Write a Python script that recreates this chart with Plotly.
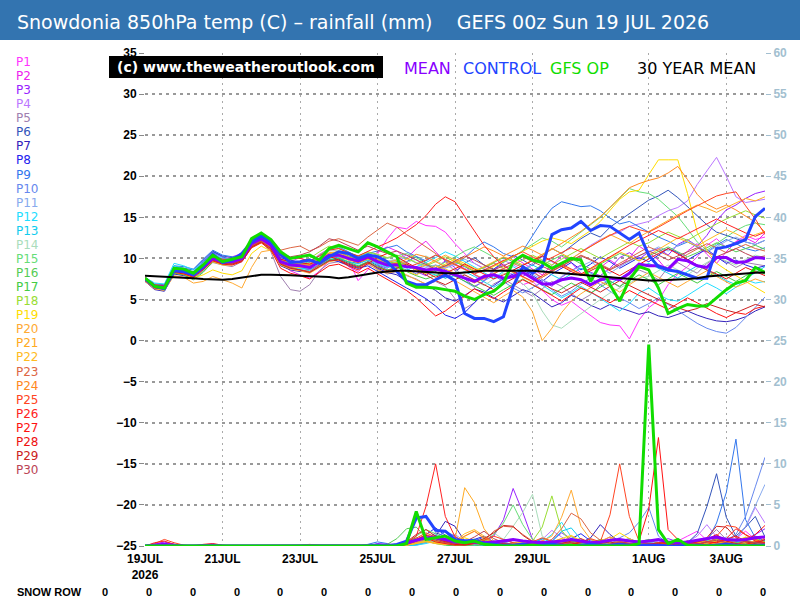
import pandas as pd
import plotly.graph_objects as go

# ---------------- time axis (6-hourly steps from 00z 19 JUL 2026) ----------------
times = pd.date_range("2026-07-19 00:00", periods=65, freq="6h")

tick_dates = ["2026-07-19", "2026-07-21", "2026-07-23", "2026-07-25",
              "2026-07-27", "2026-07-29", "2026-08-01", "2026-08-03"]
tick_labels = ["19JUL<br>2026", "21JUL", "23JUL", "25JUL", "27JUL", "29JUL", "1AUG", "3AUG"]
temp_ticks = [35, 30, 25, 20, 15, 10, 5, 0, -5, -10, -15, -20, -25]
rain_ticks = [0, 5, 10, 15, 20, 25, 30, 35, 40, 45, 50, 55, 60]
member_names = ["P%d" % k for k in range(1, 31)]
snow_row = [0, 0, 0, 0, 0, 0, 0, 0, 0, 0, 0, 0, 0, 0, 0, 0]

# ---------------- 850hPa temperature (C) ----------------
mean_temp = [7.5, 6.6, 6.5, 8.6, 8.4, 8.0, 8.9, 10.0, 9.6, 9.6, 10.0, 11.8, 12.4,
             11.6, 9.6, 9.2, 9.1, 8.9, 9.6, 10.4, 10.4, 10.0, 9.7, 10.2, 9.6, 9.2,
             9.2, 9.0, 8.9, 8.6, 8.7, 8.4, 8.0, 7.6, 7.2, 7.8, 8.0, 7.6, 7.8,
             8.3, 7.6, 6.9, 6.9, 7.4, 7.6, 7.4, 6.8, 7.4, 7.6, 7.4, 8.2, 9.3,
             9.1, 9.1, 8.7, 9.9, 9.7, 9.1, 8.9, 10.1, 10.1, 9.5, 9.6, 10.1, 10.0]
control_temp = [7.5, 6.6, 6.3, 8.5, 8.4, 8.0, 9.0, 10.5, 9.5, 9.8, 10.6, 12.0, 12.8,
                12.0, 10.5, 9.5, 9.6, 9.8, 9.4, 10.2, 10.8, 10.6, 10.0, 10.4, 10.2, 9.6,
                8.4, 7.2, 6.8, 6.8, 7.4, 8.0, 7.3, 3.3, 2.7, 2.7, 2.3, 2.9, 6.6,
                9.0, 8.2, 9.0, 12.9, 13.5, 13.7, 14.5, 13.4, 14.0, 13.9, 13.1, 12.3, 13.1,
                10.4, 9.0, 8.6, 8.4, 8.0, 7.6, 7.6, 11.2, 11.4, 11.8, 12.3, 15.1, 16.1]
gfs_op_temp = [7.6, 6.6, 6.4, 8.8, 8.7, 8.2, 9.2, 10.4, 9.6, 9.9, 10.2, 12.4, 13.1,
               12.3, 10.8, 10.0, 10.2, 10.4, 9.8, 11.2, 11.6, 11.2, 10.8, 11.9, 11.4, 10.8,
               10.2, 7.0, 6.5, 6.5, 6.4, 6.2, 6.0, 5.4, 5.0, 5.6, 6.0, 7.0, 9.6,
               10.4, 9.8, 9.5, 8.8, 9.4, 10.0, 9.8, 7.2, 9.3, 6.8, 4.8, 7.4, 9.0,
               8.6, 6.4, 3.3, 3.9, 4.4, 4.2, 4.2, 5.2, 6.2, 7.0, 7.3, 8.9, 8.3]
clim_temp = [7.9, 7.85, 7.8, 7.75, 7.7, 7.6, 7.5, 7.45, 7.4, 7.5, 7.65, 7.8, 8.0,
             8.0, 8.0, 7.95, 7.9, 7.85, 7.8, 7.75, 7.6, 7.7, 7.9, 8.1, 8.3, 8.4,
             8.5, 8.5, 8.45, 8.4, 8.3, 8.2, 8.2, 8.3, 8.4, 8.5, 8.5, 8.5, 8.5,
             8.5, 8.5, 8.4, 8.3, 8.2, 8.1, 8.0, 7.9, 7.8, 7.7, 7.6, 7.5, 7.4,
             7.3, 7.3, 7.35, 7.4, 7.5, 7.6, 7.8, 7.9, 8.0, 8.1, 8.2, 8.25, 8.3]

p1_temp = [7.6, 6.4, 6.2, 8.8, 8.5, 8.3, 9.4, 10.4, 9.9, 10.2, 10.6, 12.2, 12.9,
           12.0, 10.2, 9.6, 10.1, 9.5, 10.5, 11.2, 10.8, 9.8, 7.3, 8.6, 10.5, 12.4,
           13.8, 13.6, 14.5, 14.0, 13.9, 13.2, 11.8, 10.6, 9.4, 8.8, 9.5, 8.7, 7.9,
           6.8, 7.2, 6.1, 5.0, 4.3, 4.8, 3.9, 3.0, 2.2, 1.9, 1.8, 0.2, 2.5,
           4.0, 4.9, 6.8, 8.1, 9.0, 10.2, 11.6, 12.4, 11.3, 12.1, 12.8, 12.3, 12.6]
p2_temp = [7.4, 6.7, 6.6, 8.4, 8.2, 7.9, 8.7, 9.8, 9.4, 9.3, 9.9, 11.6, 12.2,
           11.3, 9.4, 8.5, 8.0, 7.6, 8.4, 9.7, 10.2, 9.0, 8.4, 9.5, 10.8, 11.4,
           10.9, 10.0, 11.2, 12.1, 10.8, 9.6, 8.5, 9.1, 8.0, 7.3, 8.4, 9.6, 10.2,
           9.4, 8.7, 8.0, 9.1, 10.3, 9.5, 8.2, 7.7, 8.9, 9.8, 9.0, 10.1, 11.5,
           10.7, 9.8, 8.4, 9.6, 10.9, 11.8, 10.5, 9.4, 10.8, 12.0, 12.5, 11.9, 13.1]
p3_temp = [7.5, 6.5, 6.4, 8.5, 8.5, 8.1, 9.0, 10.1, 9.7, 9.5, 9.9, 11.7, 12.3,
           11.5, 9.9, 9.5, 9.4, 9.0, 9.9, 10.6, 10.1, 10.3, 9.9, 10.4, 9.2, 8.8,
           9.6, 9.4, 8.4, 7.9, 8.8, 9.7, 8.9, 7.5, 6.6, 7.2, 8.7, 9.3, 8.4,
           7.8, 8.6, 7.4, 6.6, 7.7, 8.5, 9.2, 8.3, 7.9, 8.8, 10.1, 10.7, 9.9,
           10.8, 11.2, 10.4, 11.7, 12.3, 11.5, 12.8, 14.6, 15.9, 16.5, 17.3, 17.9, 18.2]
p4_temp = [7.7, 6.8, 6.6, 8.7, 8.6, 8.2, 9.1, 10.2, 9.8, 9.8, 10.3, 12.0, 12.6,
           11.8, 9.8, 9.0, 8.6, 8.3, 9.1, 10.0, 10.6, 10.4, 9.9, 10.6, 10.1, 9.6,
           9.9, 10.4, 9.8, 9.1, 8.6, 8.9, 9.3, 8.8, 8.2, 8.5, 9.1, 9.8, 9.2,
           8.6, 9.4, 10.2, 9.6, 8.8, 9.9, 10.8, 11.6, 12.3, 12.8, 13.2, 13.9, 14.2,
           14.5, 15.2, 15.8, 16.2, 17.0, 19.0, 20.6, 22.3, 20.0, 17.5, 16.8, 17.0, 17.2]
p5_temp = [7.3, 6.3, 6.1, 8.2, 8.0, 7.6, 8.4, 9.5, 9.2, 9.0, 9.6, 11.3, 12.0,
           10.8, 7.8, 6.2, 6.0, 6.8, 8.5, 9.4, 9.6, 9.1, 8.8, 9.3, 8.7, 8.1,
           8.4, 7.9, 7.5, 6.8, 7.2, 6.6, 5.1, 3.9, 4.6, 5.8, 6.9, 7.5, 6.8,
           6.1, 5.4, 6.3, 7.2, 6.6, 5.8, 4.9, 5.6, 6.8, 7.3, 6.5, 7.8, 8.6,
           8.1, 7.4, 8.9, 9.5, 8.8, 8.2, 9.4, 10.1, 9.6, 8.9, 9.5, 9.3, 9.1]
p6_temp = [7.6, 6.7, 6.7, 8.9, 8.8, 8.6, 9.8, 10.9, 10.3, 10.1, 10.5, 12.3, 12.9,
           12.2, 10.4, 9.8, 9.5, 9.1, 9.9, 10.5, 10.0, 9.6, 9.4, 9.8, 9.1, 8.6,
           8.8, 9.6, 10.2, 9.5, 8.4, 7.6, 8.3, 9.4, 10.1, 9.2, 8.7, 9.6, 10.4,
           9.8, 9.1, 10.3, 11.2, 10.6, 11.5, 12.4, 13.1, 12.6, 13.8, 14.6, 15.4, 16.3,
           17.1, 17.6, 18.3, 17.4, 16.3, 15.2, 14.1, 13.2, 12.8, 12.4, 12.0, 11.7, 12.2]
p7_temp = [7.2, 6.2, 6.0, 8.1, 7.9, 7.7, 9.2, 10.6, 9.9, 9.5, 9.7, 11.4, 12.1,
           11.2, 9.1, 8.6, 8.4, 8.7, 9.2, 9.8, 9.9, 9.4, 9.0, 9.6, 8.8, 8.3,
           8.0, 7.2, 6.5, 6.8, 6.1, 5.2, 4.8, 5.5, 6.3, 5.9, 5.2, 4.7, 5.4,
           6.2, 5.8, 4.9, 4.1, 4.6, 5.5, 5.0, 4.3, 3.8, 4.4, 4.0, 3.6, 3.2,
           3.5, 3.0, 2.8, 3.2, 3.6, 3.1, 2.7, 2.4, 2.3, 2.5, 2.9, 3.6, 4.1]
p8_temp = [7.5, 6.5, 6.3, 8.7, 8.6, 8.3, 9.6, 10.8, 10.2, 9.8, 10.3, 12.1, 12.7,
           11.9, 10.1, 9.7, 9.5, 9.2, 9.4, 9.9, 9.6, 9.2, 8.8, 9.1, 8.4, 7.8,
           7.1, 6.4, 5.8, 5.1, 4.2, 3.1, 2.7, 3.4, 4.6, 5.8, 6.7, 7.5, 8.1,
           8.6, 7.9, 7.2, 8.1, 8.8, 9.5, 8.6, 9.3, 10.2, 9.6, 8.8, 9.4, 10.1,
           9.6, 10.4, 11.2, 10.7, 9.8, 10.5, 11.1, 10.2, 9.4, 9.8, 9.2, 8.8, 9.1]
p9_temp = [7.7, 6.9, 6.8, 9.1, 9.0, 8.7, 9.9, 11.0, 10.4, 10.2, 10.4, 12.2, 12.8,
           12.0, 10.0, 9.3, 9.2, 9.5, 10.3, 11.1, 11.4, 10.8, 10.2, 10.6, 10.9, 11.3,
           11.6, 10.8, 10.2, 9.7, 10.4, 9.8, 9.2, 10.1, 11.2, 12.0, 11.4, 10.6, 10.2,
           10.9, 12.8, 14.6, 16.1, 16.9, 16.6, 16.3, 16.4, 15.8, 14.9, 14.2, 14.5, 13.8,
           13.2, 12.6, 12.1, 11.5, 12.0, 11.4, 10.8, 11.6, 12.3, 11.8, 11.2, 10.9, 11.3]
p10_temp = [7.4, 6.6, 6.5, 8.8, 8.7, 8.4, 9.7, 10.7, 10.1, 9.9, 10.2, 11.9, 12.5,
            11.7, 9.7, 9.1, 8.9, 8.6, 9.3, 10.1, 10.3, 9.9, 9.5, 10.1, 9.4, 9.0,
            9.3, 8.8, 8.1, 8.5, 9.2, 8.6, 7.9, 7.1, 6.5, 7.3, 7.9, 7.2, 6.4,
            5.8, 6.5, 7.1, 6.2, 5.4, 6.0, 6.9, 7.6, 6.8, 5.9, 5.2, 4.6, 3.9,
            4.5, 5.2, 4.4, 3.6, 2.8, 2.1, 1.5, 1.1, 0.9, 1.6, 2.8, 4.1, 5.3]
p11_temp = [7.5, 6.7, 6.6, 8.6, 8.5, 8.2, 9.3, 10.4, 9.9, 9.8, 10.1, 11.9, 12.5,
            11.6, 9.5, 9.0, 8.9, 9.1, 9.8, 10.5, 10.7, 10.2, 9.8, 10.3, 9.9, 9.5,
            9.8, 10.1, 9.4, 8.9, 9.2, 8.8, 9.3, 9.9, 9.4, 8.7, 8.2, 7.6, 8.3,
            8.9, 8.1, 7.4, 6.9, 7.8, 8.5, 9.1, 9.6, 8.8, 8.2, 9.0, 9.7, 10.3,
            10.8, 11.4, 10.9, 11.6, 12.2, 11.5, 10.8, 11.4, 12.1, 12.6, 12.0, 11.7, 12.2]
p12_temp = [7.7, 7.0, 6.9, 9.4, 9.1, 8.6, 9.5, 10.5, 10.0, 9.9, 10.2, 11.8, 12.3,
            11.4, 9.2, 8.8, 8.7, 8.5, 9.2, 9.9, 10.1, 9.6, 9.3, 9.8, 9.3, 8.9,
            9.1, 8.6, 9.0, 9.5, 10.1, 10.8, 10.3, 9.6, 8.9, 8.2, 7.6, 8.4, 9.0,
            8.3, 7.5, 6.8, 5.9, 5.2, 5.8, 6.6, 5.9, 5.1, 4.4, 3.6, 4.5, 5.8,
            6.4, 5.6, 5.0, 4.8, 5.5, 6.3, 7.0, 6.4, 5.7, 6.5, 7.4, 7.0, 7.2]
p13_temp = [7.6, 6.8, 6.7, 9.1, 8.8, 8.3, 9.2, 10.2, 9.7, 9.7, 10.1, 11.7, 12.2,
            11.3, 9.3, 8.9, 8.8, 8.8, 9.6, 10.3, 10.5, 10.1, 9.6, 9.9, 9.5, 9.3,
            9.5, 9.1, 8.7, 8.3, 8.0, 7.6, 7.9, 8.4, 7.8, 7.1, 6.5, 7.2, 7.9,
            8.5, 9.2, 8.6, 8.0, 7.4, 8.1, 8.8, 8.2, 7.5, 6.9, 7.6, 8.3, 8.9,
            9.4, 8.8, 8.2, 7.6, 8.4, 9.1, 8.6, 7.9, 7.3, 6.8, 7.5, 8.2, 9.0]
p14_temp = [7.4, 6.6, 6.5, 8.5, 8.3, 7.9, 8.8, 9.9, 9.5, 9.5, 9.9, 11.5, 12.1,
            11.2, 9.5, 9.1, 9.0, 9.3, 10.1, 10.9, 11.0, 10.4, 9.9, 10.5, 10.2, 9.7,
            9.9, 9.5, 9.9, 10.3, 9.7, 9.2, 8.6, 8.0, 7.4, 6.7, 7.5, 8.2, 7.6,
            6.9, 5.8, 3.6, 1.9, 1.5, 2.4, 3.3, 4.2, 5.0, 5.8, 6.4, 7.0, 7.6,
            7.8, 8.5, 9.2, 8.6, 8.0, 8.8, 9.5, 10.2, 9.7, 9.2, 9.9, 10.4, 10.1]
p15_temp = [7.5, 6.6, 6.4, 8.3, 8.1, 7.6, 8.5, 9.8, 9.4, 9.4, 9.9, 11.6, 12.3,
            11.5, 9.6, 9.3, 9.3, 9.6, 10.4, 11.2, 11.3, 10.6, 10.1, 10.7, 10.4, 10.0,
            10.3, 10.6, 10.1, 9.4, 8.9, 9.5, 10.2, 10.9, 11.4, 10.8, 10.1, 9.5, 10.2,
            11.0, 11.8, 12.5, 12.1, 11.4, 12.3, 13.2, 14.1, 15.0, 16.2, 17.4, 18.5, 18.1,
            17.9, 17.2, 16.1, 15.1, 13.6, 12.0, 11.0, 11.8, 12.6, 13.4, 14.0, 14.3, 14.1]
p16_temp = [7.6, 6.7, 6.6, 8.7, 8.5, 8.0, 8.8, 9.9, 9.6, 9.7, 10.2, 11.9, 12.5,
            11.7, 9.8, 9.4, 9.2, 9.0, 9.7, 10.6, 10.8, 10.3, 9.9, 10.4, 9.8, 9.4,
            9.6, 9.2, 8.8, 8.2, 8.5, 9.1, 9.6, 9.0, 8.4, 8.9, 9.5, 10.1, 9.6,
            9.0, 8.5, 9.2, 9.8, 10.4, 10.0, 9.4, 8.7, 9.3, 10.0, 10.6, 10.2, 9.7,
            10.3, 10.9, 11.4, 10.8, 10.2, 10.7, 11.3, 11.9, 11.4, 10.8, 11.2, 11.6, 11.1]
p17_temp = [7.3, 6.4, 6.2, 8.2, 8.0, 7.4, 8.3, 9.6, 9.3, 9.4, 9.8, 11.4, 12.0,
            11.1, 9.2, 8.8, 8.6, 8.3, 9.0, 9.8, 10.0, 9.5, 9.1, 9.6, 9.0, 8.6,
            8.9, 8.4, 7.9, 7.5, 7.9, 8.4, 7.8, 7.2, 6.6, 6.1, 5.5, 6.2, 6.9,
            7.5, 6.8, 6.2, 5.6, 6.3, 7.0, 6.4, 5.8, 6.5, 7.2, 6.6, 7.3, 8.0,
            7.4, 6.8, 7.5, 8.2, 7.6, 7.0, 7.7, 8.4, 7.8, 7.2, 7.9, 8.5, 8.1]
p18_temp = [7.5, 6.6, 6.5, 8.6, 8.4, 8.1, 9.0, 10.1, 9.7, 9.7, 10.3, 12.1, 12.6,
            11.7, 9.8, 9.4, 9.6, 10.0, 10.8, 11.5, 11.2, 10.7, 10.3, 10.8, 10.5, 10.1,
            10.4, 10.0, 9.5, 9.1, 9.6, 10.2, 9.6, 9.1, 8.5, 8.9, 9.4, 8.8, 9.3,
            9.8, 10.4, 9.8, 9.2, 9.9, 10.6, 11.2, 10.6, 10.0, 10.7, 11.4, 12.0, 11.5,
            11.9, 12.6, 13.2, 12.7, 12.2, 12.9, 13.6, 14.2, 14.8, 15.3, 15.8, 15.3, 14.9]
p19_temp = [7.4, 6.5, 6.4, 8.3, 8.1, 7.6, 8.0, 8.6, 8.2, 8.0, 8.5, 10.6, 11.5,
            10.9, 9.4, 9.0, 8.9, 9.1, 9.8, 10.6, 10.6, 10.1, 9.7, 10.2, 9.7, 9.3,
            9.5, 9.1, 8.6, 8.2, 8.7, 9.3, 9.9, 9.4, 8.8, 8.4, 9.0, 9.7, 10.3,
            10.8, 11.4, 12.1, 12.5, 12.2, 11.8, 12.6, 13.4, 14.5, 15.9, 17.2, 18.1, 18.3,
            20.2, 22.0, 22.0, 22.0, 17.9, 13.2, 11.0, 9.4, 8.6, 7.9, 7.2, 6.6, 5.8]
p20_temp = [7.2, 6.3, 6.1, 7.9, 7.7, 7.0, 7.2, 7.8, 7.4, 7.0, 6.4, 8.9, 10.8,
            11.0, 9.2, 8.7, 8.5, 8.2, 8.9, 9.6, 9.8, 9.3, 8.9, 9.4, 8.6, 8.2,
            8.5, 8.0, 7.4, 6.9, 7.4, 7.9, 7.3, 6.6, 5.9, 5.2, 4.6, 5.4, 6.1,
            5.3, 3.5, 0.0, 1.5, 3.4, 4.8, 5.7, 6.5, 7.2, 6.6, 5.9, 6.8, 7.6,
            8.3, 7.7, 7.1, 6.5, 7.2, 7.9, 8.5, 7.8, 7.1, 6.5, 7.0, 7.5, 7.1]
p21_temp = [7.6, 6.7, 6.6, 8.7, 8.5, 8.1, 8.8, 9.8, 9.4, 9.5, 9.9, 11.6, 12.2,
            11.4, 9.5, 9.2, 9.2, 9.4, 10.0, 10.7, 10.8, 10.2, 9.8, 10.3, 9.9, 9.5,
            9.8, 9.3, 8.8, 9.2, 9.8, 10.4, 9.8, 9.1, 8.5, 9.0, 9.6, 10.2, 9.8,
            9.2, 9.8, 10.5, 11.2, 10.6, 10.0, 10.7, 11.5, 12.2, 12.9, 12.3, 11.8, 12.6,
            13.3, 14.0, 14.6, 15.3, 15.9, 16.5, 16.1, 15.6, 16.2, 16.8, 17.3, 17.0, 17.5]
p22_temp = [7.5, 6.6, 6.5, 8.6, 8.4, 8.0, 8.7, 9.6, 9.2, 9.2, 9.7, 11.3, 11.9,
            11.2, 9.4, 9.0, 9.0, 9.3, 9.9, 10.4, 10.2, 9.8, 9.5, 9.9, 9.6, 9.2,
            9.0, 8.5, 8.0, 8.6, 9.1, 8.7, 8.2, 7.6, 7.0, 7.6, 8.2, 8.8, 8.3,
            7.7, 7.1, 7.7, 8.4, 9.1, 8.6, 8.0, 8.7, 9.4, 10.1, 10.8, 10.3, 9.7,
            10.4, 11.1, 11.8, 12.5, 12.0, 11.5, 12.2, 12.9, 13.5, 13.0, 12.4, 12.9, 13.3]
p23_temp = [7.6, 6.6, 6.5, 8.5, 8.4, 8.1, 9.0, 10.2, 9.8, 9.9, 10.5, 12.3, 12.9,
            12.4, 11.0, 11.3, 11.5, 10.9, 11.4, 12.1, 12.4, 12.0, 11.6, 12.6, 13.5, 14.3,
            13.8, 12.9, 12.2, 11.4, 10.6, 9.8, 9.2, 8.6, 8.0, 7.5, 8.1, 8.8, 9.4,
            8.9, 8.3, 7.7, 8.4, 9.1, 9.8, 10.4, 9.9, 9.3, 8.7, 9.4, 10.1, 10.8,
            11.4, 10.9, 10.3, 9.8, 10.5, 11.2, 11.8, 11.3, 10.7, 11.2, 11.7, 11.2, 10.9]
p24_temp = [7.4, 6.5, 6.4, 8.4, 8.3, 7.9, 8.8, 9.9, 9.5, 9.6, 10.0, 11.8, 12.4,
            11.6, 9.9, 9.5, 9.3, 9.1, 9.7, 10.4, 10.5, 10.0, 9.6, 10.1, 9.5, 9.1,
            9.4, 9.9, 10.5, 10.2, 9.6, 9.0, 9.5, 10.1, 10.8, 11.4, 10.9, 10.3, 10.9,
            11.5, 11.0, 10.4, 11.1, 11.8, 12.5, 13.3, 14.2, 15.1, 16.2, 17.4, 18.6, 19.1,
            19.5, 19.8, 20.4, 21.2, 19.6, 17.8, 16.6, 16.0, 16.5, 15.9, 15.2, 14.4, 13.2]
p25_temp = [7.5, 6.6, 6.4, 8.5, 8.3, 7.9, 8.8, 9.9, 9.5, 9.4, 9.8, 11.5, 12.1,
            11.3, 9.4, 8.9, 8.6, 8.4, 9.2, 10.0, 10.4, 9.9, 9.5, 10.0, 9.6, 9.2,
            9.4, 8.9, 9.3, 9.8, 10.4, 9.9, 9.3, 8.7, 8.1, 8.6, 9.2, 9.8, 10.3,
            10.8, 10.2, 9.6, 10.1, 10.7, 11.3, 10.8, 11.5, 12.1, 12.8, 13.4, 13.9, 13.5,
            13.2, 13.8, 14.5, 15.2, 15.8, 16.4, 17.0, 17.6, 17.9, 18.1, 16.4, 14.8, 12.9]
p26_temp = [7.7, 6.8, 6.7, 8.8, 8.6, 8.3, 9.2, 10.3, 9.9, 9.9, 10.3, 12.0, 12.6,
            11.8, 10.3, 10.1, 10.0, 9.7, 10.3, 11.0, 11.2, 10.7, 10.3, 10.9, 11.4, 11.9,
            12.5, 13.3, 14.1, 15.2, 16.6, 17.5, 16.9, 15.1, 13.3, 11.6, 10.2, 9.1, 8.4,
            7.8, 7.2, 7.9, 8.6, 9.3, 8.7, 8.1, 8.8, 9.5, 10.2, 10.9, 11.6, 12.2,
            12.8, 13.4, 12.9, 12.4, 13.0, 13.6, 14.2, 14.8, 14.2, 13.6, 13.1, 12.7, 13.2]
p27_temp = [7.3, 6.4, 6.3, 8.3, 8.1, 7.7, 8.6, 9.7, 9.3, 9.2, 9.6, 11.3, 11.9,
            11.0, 8.8, 8.2, 7.9, 7.5, 8.3, 9.1, 9.3, 8.7, 8.2, 8.8, 8.1, 7.4,
            6.8, 6.1, 5.2, 4.1, 3.0, 3.6, 4.5, 5.4, 6.3, 5.7, 5.1, 5.9, 6.7,
            7.4, 6.8, 6.2, 5.5, 4.8, 5.6, 6.4, 5.9, 5.2, 4.6, 5.3, 6.1, 5.5,
            4.9, 4.3, 3.8, 4.5, 5.2, 4.6, 3.9, 3.3, 2.8, 3.4, 3.2, 3.9, 4.2]
p28_temp = [7.6, 6.7, 6.6, 8.6, 8.4, 8.0, 8.9, 10.0, 9.6, 9.6, 10.0, 11.8, 12.4,
            11.7, 9.9, 9.6, 9.5, 9.3, 9.8, 10.3, 9.8, 9.1, 8.6, 9.4, 10.1, 10.6,
            10.2, 9.5, 8.9, 8.3, 7.7, 8.2, 8.8, 9.3, 8.7, 8.1, 7.5, 8.0, 8.6,
            9.2, 9.8, 10.3, 9.7, 9.0, 8.4, 7.9, 8.5, 9.1, 8.5, 7.9, 8.6, 9.3,
            9.9, 10.6, 11.2, 10.5, 9.8, 9.2, 8.6, 8.1, 7.5, 8.2, 8.9, 8.4, 7.9]
p29_temp = [7.4, 6.5, 6.4, 8.4, 8.2, 7.8, 8.7, 9.8, 9.4, 9.3, 9.7, 11.4, 12.0,
            11.2, 9.3, 8.8, 8.6, 8.3, 9.0, 9.7, 9.8, 9.3, 8.9, 9.5, 8.9, 8.5,
            8.8, 9.3, 8.7, 8.0, 7.3, 6.8, 7.4, 8.0, 7.4, 6.8, 6.2, 6.9, 7.6,
            8.2, 7.6, 6.9, 6.3, 5.8, 6.4, 7.1, 6.5, 5.9, 6.6, 7.3, 6.7, 6.1,
            5.5, 5.0, 4.5, 4.0, 3.6, 3.9, 4.5, 4.1, 3.7, 3.4, 3.9, 4.4, 4.1]
p30_temp = [7.5, 6.6, 6.5, 8.5, 8.3, 7.9, 8.8, 9.9, 9.5, 9.5, 9.9, 11.6, 12.2,
            11.8, 10.6, 10.2, 10.4, 10.8, 11.5, 12.4, 12.1, 11.5, 11.0, 11.5, 11.0, 10.6,
            10.9, 10.4, 9.8, 9.2, 8.7, 9.1, 9.7, 10.3, 9.8, 9.2, 8.6, 9.1, 9.7,
            10.2, 9.6, 9.0, 8.5, 9.1, 9.7, 10.3, 9.8, 9.2, 8.6, 9.2, 9.8, 10.4,
            10.9, 10.4, 9.8, 10.3, 10.8, 11.3, 10.8, 10.2, 10.7, 11.2, 10.6, 10.1, 10.3]

# ---------------- rainfall (mm), right axis ----------------
mean_rain = [0, 0.1, 0.2, 0.1, 0, 0, 0.05, 0.1, 0, 0, 0, 0, 0,
             0, 0, 0, 0, 0.05, 0, 0, 0, 0, 0, 0.05, 0.1, 0.1,
             0.1, 0.4, 0.7, 1.0, 1.0, 0.8, 0.5, 0.6, 0.5, 0.4, 0.5, 0.6, 0.8,
             0.6, 0.5, 0.4, 0.5, 0.6, 0.8, 0.6, 0.4, 0.5, 0.7, 0.8, 0.6, 0.5,
             0.6, 0.8, 0.5, 0.4, 0.5, 0.7, 0.9, 1.1, 0.8, 0.7, 0.8, 1.0, 1.1]
control_rain = [0, 0, 0, 0, 0, 0, 0, 0, 0, 0, 0, 0, 0,
                0, 0, 0, 0, 0, 0, 0, 0, 0, 0, 0, 0.1, 0,
                0.2, 0.6, 3.4, 3.6, 1.9, 1.8, 0.8, 0.6, 0.7, 0.3, 0.2, 0.1, 0.1,
                0.2, 0.1, 0.1, 0.2, 0.1, 0, 0.1, 0.2, 0.1, 0.1, 0.2, 0.1, 0.1,
                0.1, 0.1, 0, 0, 0.1, 0.1, 0, 0.1, 0.2, 0.1, 0, 0.1, 0.1]
gfs_op_rain = [0, 0, 0, 0, 0, 0, 0, 0, 0, 0, 0, 0, 0,
               0, 0, 0, 0, 0, 0, 0, 0, 0, 0, 0, 0, 0,
               0, 0.3, 4.2, 0.8, 1.0, 1.2, 0.6, 0.4, 0.6, 0.2, 0.1, 0, 0,
               0, 0.1, 0, 0, 0, 0.1, 0, 0, 0, 0, 0, 0, 0.3,
               24.5, 2.0, 0.3, 0.8, 0.1, 0, 0, 0, 0, 0, 0, 0, 0]

p1_rain = [0, 0, 0.3, 0.1, 0, 0, 0, 0, 0, 0, 0, 0, 0,
           0, 0, 0, 0, 0, 0, 0, 0, 0, 0, 0, 0, 0,
           0, 0.2, 0.5, 0.8, 0.4, 0.2, 0, 0.3, 0.1, 0, 0, 0.2, 0.4,
           0.3, 0.1, 0, 0.2, 0.5, 0.3, 0.1, 0, 0.4, 0.8, 0.3, 0.1, 0,
           0, 0, 0.2, 0.6, 1.2, 1.8, 0.7, 0.3, 0.5, 0.9, 1.8, 0.8, 0.4]
p2_rain = [0, 0.2, 0.5, 0.2, 0, 0, 0, 0, 0, 0, 0, 0, 0,
           0, 0, 0, 0, 0, 0, 0, 0, 0, 0, 0, 0, 0,
           0, 0, 0.3, 1.1, 0.6, 0.2, 0.1, 0, 0, 0.2, 0.3, 0.1, 0,
           0, 0.2, 0.6, 0.3, 0, 0, 0.1, 0.4, 0.2, 0, 0, 0.3, 0.1,
           0, 0.2, 0.5, 0.2, 0, 0.1, 0.4, 1.0, 0.6, 0.3, 0.2, 0.5, 0.8]
p3_rain = [0, 0.2, 0.5, 0.2, 0, 0, 0, 0, 0, 0, 0, 0, 0,
           0, 0, 0, 0, 0, 0, 0, 0, 0, 0, 0, 0.3, 0.2,
           0, 0.1, 0.4, 0.9, 1.3, 0.8, 0.3, 0.1, 0.2, 0.5, 1.2, 3.2, 7.0,
           4.1, 0.8, 0.3, 0.6, 1.6, 0.9, 0.4, 0.2, 0.5, 1.1, 0.6, 0.3, 0.2,
           0.1, 0.4, 0.9, 0.5, 0.2, 0.3, 0.7, 1.3, 0.6, 0.4, 0.8, 1.4, 2.1]
p4_rain = [0, 0, 0, 0, 0, 0, 0, 0, 0, 0, 0, 0, 0,
           0, 0, 0, 0, 0, 0, 0, 0, 0, 0, 0, 0, 0,
           0, 0, 0.2, 0.6, 0.3, 0.9, 1.4, 0.6, 0.2, 0, 0.3, 0.5, 0.2,
           0.1, 0.3, 0.8, 1.9, 1.1, 0.4, 0.2, 0.6, 0.3, 0.1, 0.4, 0.2, 0.1,
           0.3, 0.6, 0.2, 0.1, 0.5, 1.2, 2.6, 1.1, 0.4, 0.9, 2.3, 4.7, 2.8]
p5_rain = [0, 0, 0, 0, 0, 0, 0, 0, 0, 0, 0, 0, 0,
           0, 0, 0, 0, 0, 0, 0, 0, 0, 0, 0, 0, 0,
           0, 0.1, 0.5, 1.0, 0.7, 0.3, 0.2, 0, 0.1, 0.3, 0.2, 0, 0,
           0.2, 0.5, 0.3, 0.1, 0, 0.2, 0.6, 0.3, 0.1, 0, 0.2, 0.1, 0,
           0, 0.2, 0.4, 0.1, 0, 0.3, 0.9, 2.0, 0.8, 0.3, 0.6, 0.4, 0.2]
p6_rain = [0, 0, 0, 0, 0, 0, 0, 0, 0, 0, 0, 0, 0,
           0, 0, 0, 0, 0, 0, 0, 0, 0, 0, 0, 0, 0,
           0, 0, 0.3, 0.8, 1.6, 1.2, 0.5, 0.3, 0.6, 1.1, 0.4, 0.2, 0.1,
           0, 0.3, 0.9, 0.5, 0.2, 0.1, 0.4, 0.8, 0.3, 0.2, 0.6, 0.9, 0.4,
           0.2, 0.1, 0.3, 0.6, 0.4, 1.5, 4.8, 8.8, 3.5, 1.2, 2.3, 3.6, 1.1]
p7_rain = [0, 0, 0, 0, 0, 0, 0, 0, 0, 0, 0, 0, 0,
           0, 0, 0, 0, 0, 0, 0, 0, 0, 0, 0, 0, 0,
           0, 0, 0.2, 0.5, 1.2, 3.0, 2.4, 0.6, 0.2, 0.1, 0.3, 0.8, 0.4,
           0.2, 0.1, 0.3, 0.6, 0.2, 0, 0.4, 1.0, 2.6, 1.4, 0.5, 0.2, 0.1,
           0, 0.2, 0.5, 0.3, 0.1, 0.2, 0.6, 0.4, 0.2, 0.5, 1.0, 0.7, 0.3]
p8_rain = [0, 0, 0, 0, 0, 0, 0, 0, 0, 0, 0, 0, 0,
           0, 0, 0, 0, 0, 0, 0, 0, 0, 0, 0, 0.2, 0.1,
           0, 0.1, 0.6, 1.4, 2.2, 1.3, 0.7, 0.4, 0.8, 1.2, 0.5, 0.3, 0.2,
           0.1, 0.4, 0.2, 0.1, 0.3, 0.9, 1.5, 0.6, 0.2, 0.1, 0.4, 0.8, 0.3,
           0.2, 0.4, 0.1, 0.3, 0.6, 0.2, 0.4, 0.9, 0.5, 0.3, 0.7, 1.2, 0.6]
p9_rain = [0, 0, 0, 0, 0, 0, 0, 0, 0, 0, 0, 0, 0,
           0, 0, 0, 0, 0, 0, 0, 0, 0, 0, 0.2, 0.5, 0.3,
           0, 0, 0.2, 0.5, 1.0, 1.8, 1.2, 0.4, 0.2, 0.1, 0.3, 0.2, 0.1,
           0, 0.2, 0.5, 0.3, 0.1, 0.2, 0.4, 0.3, 0.1, 0, 0.3, 0.6, 0.2,
           0.1, 0.2, 0.4, 0.2, 0.1, 0.3, 0.5, 2.8, 6.5, 13.0, 3.2, 1.0, 0.5]
p10_rain = [0, 0, 0, 0, 0, 0, 0, 0, 0, 0, 0, 0, 0,
            0, 0, 0, 0, 0, 0, 0, 0, 0, 0, 0, 0, 0,
            0, 0, 0.1, 0.4, 0.8, 0.5, 0.3, 0.1, 0.4, 0.7, 0.3, 0.1, 0,
            0.2, 0.1, 0.3, 0.6, 0.4, 0.2, 0.1, 0.3, 0.8, 0.6, 1.0, 1.6, 2.9,
            4.7, 1.2, 0.3, 0.5, 0.3, 0.4, 0.8, 0.5, 0.7, 1.4, 3.6, 7.2, 10.8]
p11_rain = [0, 0, 0, 0, 0, 0, 0, 0, 0, 0, 0, 0, 0,
            0, 0, 0, 0, 0, 0, 0, 0, 0, 0, 0, 0, 0,
            0, 0.1, 0.3, 0.7, 1.4, 0.9, 0.4, 0.2, 0.1, 0.3, 0.6, 0.4, 0.2,
            0.1, 0.3, 0.2, 0.8, 1.7, 0.6, 0.2, 0.1, 0.3, 0.5, 0.2, 0.1, 0.3,
            0.5, 0.2, 0.1, 0.3, 0.6, 0.4, 0.2, 0.5, 1.1, 0.8, 2.4, 4.9, 7.5]
p12_rain = [0, 0, 0, 0, 0, 0, 0, 0, 0, 0, 0, 0, 0,
            0, 0, 0, 0, 0, 0, 0, 0, 0, 0, 0, 0, 0,
            0, 0, 0.1, 0.3, 0.6, 0.9, 0.5, 0.3, 0.1, 0, 0.2, 0.4, 0.2,
            0.1, 0.2, 0.5, 1.4, 2.9, 1.1, 0.4, 0.2, 0.6, 0.3, 0.1, 0.2, 0.4,
            0.2, 0.1, 0.3, 0.2, 0.1, 0.4, 0.7, 0.3, 0.2, 0.6, 0.4, 0.2, 0.1]
p13_rain = [0, 0, 0, 0, 0, 0, 0, 0, 0, 0, 0, 0, 0,
            0, 0, 0, 0, 0, 0, 0, 0, 0, 0, 0, 0, 0,
            0, 0, 0.2, 0.5, 0.9, 0.6, 0.3, 0.1, 0.2, 0.4, 0.2, 0.1, 0,
            0.2, 0.4, 0.9, 0.5, 1.8, 2.2, 0.8, 0.3, 0.1, 0.2, 0.4, 0.2, 0.1,
            0, 0.2, 0.4, 0.3, 0.1, 0.2, 0.5, 0.3, 0.6, 0.4, 0.2, 0.5, 0.3]
p14_rain = [0, 0, 0, 0, 0, 0, 0, 0, 0, 0, 0, 0, 0,
            0, 0, 0, 0, 0, 0, 0, 0, 0, 0, 0, 0, 0,
            0, 0.2, 0.6, 1.1, 0.7, 0.3, 0.1, 0.2, 0.4, 0.9, 1.6, 0.8, 2.4,
            4.1, 6.3, 1.2, 0.4, 0.2, 0.1, 0.3, 0.5, 0.2, 0.1, 0.4, 0.8, 0.3,
            0.2, 0.1, 0.3, 0.5, 0.2, 0.1, 0.4, 0.6, 0.3, 0.2, 0.5, 0.3, 0.2]
p15_rain = [0, 0, 0, 0, 0, 0, 0, 0, 0, 0, 0, 0, 0,
            0, 0, 0, 0, 0, 0, 0, 0, 0, 0, 0, 0, 0,
            0, 0.4, 1.2, 2.0, 1.5, 0.8, 0.3, 0.1, 0.2, 0.6, 1.4, 2.8, 5.0,
            2.6, 0.8, 0.3, 0.2, 0.5, 0.3, 0.1, 0.2, 0.4, 0.8, 0.3, 0.1, 0.2,
            0.3, 0.1, 0.2, 0.4, 0.2, 0.1, 0.3, 0.6, 0.4, 0.2, 0.3, 0.5, 0.3]
p16_rain = [0, 0, 0, 0, 0, 0, 0, 0, 0, 0, 0, 0, 0,
            0, 0, 0, 0, 0, 0, 0, 0, 0, 0, 0, 0, 0.2,
            0.9, 2.1, 2.3, 1.0, 0.5, 0.3, 0.2, 0.1, 0, 0.2, 0.4, 0.3, 0.1,
            0.2, 0.4, 0.2, 0.1, 0.3, 0.6, 0.3, 0.1, 0.2, 0.5, 0.3, 0.1, 0.2,
            0.4, 0.2, 0.1, 0.3, 0.5, 0.2, 0.1, 0.3, 0.6, 0.4, 0.2, 0.3, 0.4]
p17_rain = [0, 0, 0, 0, 0, 0, 0, 0, 0, 0, 0, 0, 0,
            0, 0, 0, 0, 0, 0, 0, 0, 0, 0, 0, 0, 0,
            0.1, 0.5, 1.0, 0.6, 0.3, 0.1, 0, 0.2, 0.4, 0.3, 0.1, 0, 0.2,
            0.4, 0.2, 0.1, 0.3, 0.5, 0.2, 0.1, 0.4, 0.7, 0.3, 0.1, 0.2, 0.5,
            0.8, 0.3, 0.1, 0.2, 0.4, 0.3, 0.1, 0.2, 0.5, 0.3, 0.2, 0.4, 0.6]
p18_rain = [0, 0, 0, 0, 0, 0, 0, 0, 0, 0, 0, 0, 0,
            0, 0, 0, 0, 0, 0, 0, 0, 0, 0, 0, 0, 0,
            0, 0.2, 0.5, 0.9, 0.6, 0.3, 0.1, 0.2, 0.5, 0.8, 0.4, 0.2, 0.1,
            0.3, 0.6, 2.3, 6.1, 1.9, 0.5, 0.2, 0.4, 0.8, 0.5, 0.2, 0.1, 0.3,
            0.2, 0.1, 0.3, 0.6, 0.4, 0.2, 0.5, 0.8, 0.4, 0.3, 0.6, 0.9, 0.5]
p19_rain = [0, 0, 0, 0, 0, 0, 0, 0, 0, 0, 0, 0, 0,
            0, 0, 0, 0, 0, 0, 0, 0, 0, 0, 0, 0, 0,
            0, 0.1, 0.3, 0.6, 0.4, 0.2, 0.5, 1.0, 0.6, 0.3, 0.1, 0.2, 0.4,
            0.6, 0.3, 0.2, 0.5, 0.9, 1.3, 0.6, 0.2, 0.1, 0.8, 1.6, 0.9, 0.4,
            0.2, 0.1, 0.3, 0.2, 0.1, 0.4, 0.8, 0.5, 0.2, 0.6, 1.1, 0.7, 0.4]
p20_rain = [0, 0, 0, 0, 0, 0, 0, 0, 0, 0, 0, 0, 0,
            0, 0, 0, 0, 0, 0, 0, 0, 0, 0, 0, 0, 0,
            0, 0.1, 0.4, 0.7, 0.3, 0.2, 0.6, 1.2, 1.8, 0.9, 0.4, 0.2, 0.3,
            0.5, 0.2, 0.6, 1.2, 3.5, 6.8, 2.4, 0.8, 0.3, 0.1, 0.2, 0.4, 0.2,
            0.1, 0.3, 0.5, 0.2, 0.1, 0.2, 0.4, 0.3, 0.6, 0.2, 0.1, 0.3, 0.2]
p21_rain = [0, 0, 0, 0, 0, 0, 0, 0, 0, 0, 0, 0, 0,
            0, 0, 0, 0, 0, 0, 0, 0, 0, 0, 0, 0, 0,
            0, 0.2, 0.5, 0.9, 0.6, 0.4, 0.8, 7.1, 5.3, 2.1, 0.6, 0.3, 0.2,
            0.1, 0.3, 0.2, 0.5, 0.9, 0.4, 0.2, 0.1, 0.6, 1.1, 0.5, 0.2, 0.1,
            0.3, 0.1, 0.2, 0.5, 0.3, 0.2, 0.4, 0.7, 0.3, 0.2, 0.4, 0.6, 0.3]
p22_rain = [0, 0, 0, 0, 0, 0, 0, 0, 0, 0, 0, 0, 0,
            0, 0, 0, 0, 0, 0, 0, 0, 0, 0, 0, 0, 0,
            0, 0.1, 0.3, 0.5, 0.3, 0.2, 0.6, 1.5, 2.0, 1.2, 0.4, 0.2, 0.1,
            0.3, 0.7, 0.4, 0.2, 0.5, 1.2, 0.6, 0.3, 0.1, 0.2, 0.5, 0.3, 0.1,
            0.2, 0.4, 0.2, 0.1, 0.3, 0.5, 0.2, 0.4, 0.7, 0.3, 0.1, 0.2, 0.3]
p23_rain = [0, 0, 0, 0, 0, 0, 0, 0, 0, 0, 0, 0, 0,
            0, 0, 0, 0, 0, 0, 0, 0, 0, 0, 0, 0, 0,
            0, 0.3, 0.8, 1.4, 1.0, 0.5, 0.2, 0.1, 0.3, 0.6, 1.8, 2.4, 2.3,
            1.4, 0.6, 0.3, 0.8, 2.1, 4.0, 3.3, 1.6, 0.7, 0.3, 0.1, 0.2, 0.4,
            0.2, 0.1, 0.3, 0.6, 0.4, 0.2, 0.5, 0.9, 0.4, 0.2, 0.6, 0.3, 0.2]
p24_rain = [0, 0, 0, 0, 0, 0, 0, 0, 0, 0, 0, 0, 0,
            0, 0, 0, 0.1, 0.2, 0.1, 0, 0, 0, 0, 0, 0, 0,
            0, 0.2, 0.6, 1.1, 0.7, 0.4, 0.3, 1.2, 1.8, 1.0, 0.5, 0.2, 0.1,
            0.3, 0.5, 0.2, 0.1, 0.4, 0.8, 0.5, 0.2, 0.1, 0.3, 0.6, 0.3, 0.2,
            0.1, 0.3, 0.5, 0.2, 0.1, 0.4, 0.6, 0.3, 0.5, 0.8, 0.4, 0.2, 1.0]
p25_rain = [0, 0.3, 0.8, 0.4, 0.1, 0, 0, 0, 0, 0, 0, 0, 0,
            0, 0, 0, 0, 0, 0, 0, 0, 0, 0, 0, 0, 0,
            0, 0.3, 0.9, 1.6, 1.1, 0.6, 0.3, 0.2, 0.4, 0.7, 1.2, 0.8, 0.4,
            0.2, 0.5, 1.0, 0.6, 0.3, 0.2, 0.4, 0.9, 0.5, 3.8, 10.0, 3.6, 0.6,
            0.3, 0.1, 0.2, 0.4, 0.3, 0.5, 0.8, 1.2, 2.5, 2.3, 1.4, 0.8, 0.4]
p26_rain = [0, 0.4, 0.6, 0.2, 0, 0, 0, 0, 0, 0, 0, 0, 0,
            0, 0, 0, 0, 0, 0, 0, 0, 0, 0, 0, 0, 0,
            0, 0.4, 1.2, 4.8, 10.0, 3.6, 1.1, 0.5, 0.3, 0.2, 0.4, 0.3, 0.1,
            0.2, 0.4, 0.6, 0.3, 0.1, 0.2, 0.5, 0.3, 0.1, 0.2, 0.4, 0.2, 0.1,
            0.3, 0.2, 0.1, 0.4, 0.6, 0.3, 0.2, 0.5, 0.9, 2.1, 1.3, 0.6, 0.4]
p27_rain = [0, 0, 0, 0, 0, 0, 0.2, 0.3, 0.1, 0, 0, 0, 0,
            0, 0, 0, 0, 0, 0, 0, 0, 0, 0, 0, 0, 0,
            0, 0.2, 0.6, 1.0, 0.5, 0.3, 0.1, 0.2, 0.4, 0.2, 0.1, 0.3, 0.2,
            0.1, 0.2, 0.4, 0.3, 0.1, 0.2, 0.5, 0.3, 0.2, 0.1, 0.3, 0.6, 0.6,
            4.5, 13.2, 2.0, 0.8, 0.3, 0.2, 0.5, 0.4, 0.8, 1.2, 0.6, 1.4, 2.5]
p28_rain = [0, 0, 0, 0, 0, 0, 0, 0, 0, 0, 0, 0, 0,
            0, 0, 0, 0, 0, 0, 0, 0, 0, 0, 0, 0, 0,
            0, 0.3, 0.8, 1.3, 0.9, 0.5, 0.2, 0.1, 0.3, 0.5, 0.2, 0.1, 0,
            0.2, 0.4, 0.2, 0.1, 0.3, 0.6, 0.9, 0.4, 0.2, 0.1, 0.3, 0.2, 0.1,
            0.2, 0.4, 0.3, 0.1, 0.2, 0.5, 0.8, 1.4, 0.6, 0.3, 0.2, 0.5, 0.3]
p29_rain = [0, 0, 0, 0, 0, 0, 0, 0, 0, 0, 0, 0, 0,
            0, 0, 0, 0, 0, 0, 0, 0, 0, 0, 0, 0, 0,
            0.1, 0.5, 1.4, 2.0, 1.2, 0.6, 0.3, 0.2, 0.5, 0.9, 1.6, 2.5, 2.4,
            1.3, 0.5, 0.2, 0.3, 0.6, 0.4, 0.2, 0.1, 0.3, 0.5, 0.2, 0.1, 0.2,
            0.1, 0.3, 0.5, 0.2, 0.4, 0.6, 1.0, 2.4, 2.3, 1.0, 0.5, 0.3, 0.8]
p30_rain = [0, 0, 0, 0, 0, 0, 0, 0, 0, 0, 0, 0, 0,
            0, 0, 0, 0, 0, 0, 0, 0, 0, 0, 0, 0, 0,
            0, 0.2, 0.6, 1.0, 0.7, 0.4, 0.3, 0.5, 1.1, 1.8, 0.9, 0.4, 0.2,
            0.1, 0.3, 0.5, 0.2, 0.1, 0.4, 0.7, 0.3, 0.1, 0.2, 0.5, 0.3, 0.2,
            0.3, 0.1, 0.2, 0.4, 0.3, 0.2, 0.5, 0.7, 0.4, 0.2, 0.6, 0.4, 0.3]

member_temps = [p1_temp, p2_temp, p3_temp, p4_temp, p5_temp, p6_temp, p7_temp, p8_temp,
                p9_temp, p10_temp, p11_temp, p12_temp, p13_temp, p14_temp, p15_temp,
                p16_temp, p17_temp, p18_temp, p19_temp, p20_temp, p21_temp, p22_temp,
                p23_temp, p24_temp, p25_temp, p26_temp, p27_temp, p28_temp, p29_temp, p30_temp]
member_rains = [p1_rain, p2_rain, p3_rain, p4_rain, p5_rain, p6_rain, p7_rain, p8_rain,
                p9_rain, p10_rain, p11_rain, p12_rain, p13_rain, p14_rain, p15_rain,
                p16_rain, p17_rain, p18_rain, p19_rain, p20_rain, p21_rain, p22_rain,
                p23_rain, p24_rain, p25_rain, p26_rain, p27_rain, p28_rain, p29_rain, p30_rain]

# ---------------- styles ----------------
member_colors = ["#ff33ff", "#ee22ee", "#9922ff", "#bb77ff", "#a080b0", "#3355bb",
                 "#3322bb", "#2222ee", "#3377ee", "#6688ee", "#88aaee", "#22ddff",
                 "#11ccee", "#aaddbb", "#66dd77", "#55cc55", "#44cc44", "#99dd33",
                 "#ffdd00", "#ffaa33", "#ffaa22", "#ffbb22", "#dd6644", "#ff8822",
                 "#ff4422", "#ff2222", "#ff1111", "#ee1111", "#cc2222", "#bb4455"]
MEAN_C, CONTROL_C, OP_C, CLIM_C = "#8800ff", "#2244ff", "#11dd00", "#000000"
RAIN_LABEL_C = "#a3bfd0"

PLOT_L, PLOT_R, PLOT_T, PLOT_B = 145, 765, 53, 546
W, H = 800, 600


def px(X):
    return (X - PLOT_L) / (PLOT_R - PLOT_L)


def py(Y):
    return 1 - (Y - PLOT_T) / (PLOT_B - PLOT_T)


fig = go.Figure()

# thin member lines: rainfall (right axis) and temperature (left axis)
for name, col, rain in zip(member_names, member_colors, member_rains):
    fig.add_trace(go.Scatter(x=times, y=rain, mode="lines", yaxis="y2",
                             line=dict(color=col, width=1), name=name + " rain",
                             showlegend=False, hoverinfo="skip"))
for name, col, temp in zip(member_names, member_colors, member_temps):
    fig.add_trace(go.Scatter(x=times, y=temp, mode="lines",
                             line=dict(color=col, width=1), name=name,
                             showlegend=False, hoverinfo="skip"))

# thick lines
for y, col, nm, ax, w in [(mean_rain, MEAN_C, "MEAN rain", "y2", 3),
                          (control_rain, CONTROL_C, "CONTROL rain", "y2", 3),
                          (gfs_op_rain, OP_C, "GFS OP rain", "y2", 3),
                          (mean_temp, MEAN_C, "MEAN", "y", 3),
                          (control_temp, CONTROL_C, "CONTROL", "y", 3),
                          (gfs_op_temp, OP_C, "GFS OP", "y", 3),
                          (clim_temp, CLIM_C, "30 YEAR MEAN", "y", 2)]:
    fig.add_trace(go.Scatter(x=times, y=y, mode="lines", yaxis=ax,
                             line=dict(color=col, width=w), name=nm,
                             showlegend=False, hoverinfo="skip"))

ann = []
shapes = []

# title bar
shapes.append(dict(type="rect", xref="paper", yref="paper",
                   x0=px(0), x1=px(W), y0=py(40), y1=py(0),
                   fillcolor="#3374b0", line=dict(width=0), layer="above"))
ann.append(dict(x=px(15), y=py(22), xref="paper", yref="paper", xanchor="left",
                yanchor="middle", showarrow=False,
                text="Snowdonia 850hPa temp (C) \u2013 rainfall (mm)\u00a0\u00a0\u00a0\u00a0GEFS 00z Sun 19 JUL 2026",
                font=dict(family="DejaVu Sans", size=19, color="white")))

# member name column
for k, (name, col) in enumerate(zip(member_names, member_colors)):
    ann.append(dict(x=px(15), y=py(62 + k * 14.07), xref="paper", yref="paper",
                    xanchor="left", yanchor="middle", showarrow=False, text=name,
                    borderpad=0,
                    font=dict(family="DejaVu Sans", size=12, color=col)))

# copyright box and key
shapes.append(dict(type="rect", xref="paper", yref="paper",
                   x0=px(109), x1=px(383), y0=py(78), y1=py(56),
                   fillcolor="black", line=dict(width=0), layer="above"))
ann.append(dict(x=px(246), y=py(67), xref="paper", yref="paper", xanchor="center",
                yanchor="middle", showarrow=False, text="<b>(c) www.theweatheroutlook.com</b>",
                font=dict(family="DejaVu Sans", size=14, color="white")))
for txt, col, X in [("MEAN", MEAN_C, 402), ("CONTROL", CONTROL_C, 461),
                    ("GFS OP", OP_C, 548), ("30 YEAR MEAN", CLIM_C, 635)]:
    ann.append(dict(x=px(X), y=py(68), xref="paper", yref="paper", xanchor="left",
                    yanchor="middle", showarrow=False, text=txt,
                    font=dict(family="DejaVu Sans", size=16, color=col)))

# snow row
ann.append(dict(x=px(15), y=py(592), xref="paper", yref="paper", xanchor="left",
                yanchor="middle", showarrow=False, text="<b>SNOW ROW</b>",
                font=dict(family="Liberation Sans", size=11, color="black")))
for k, v in enumerate(snow_row):
    ann.append(dict(x=px(105 + k * 43.87), y=py(592), xref="paper", yref="paper",
                    xanchor="center", yanchor="middle", showarrow=False,
                    text="<b>%d</b>" % v,
                    font=dict(family="Liberation Sans", size=11, color="black")))

fig.update_layout(
    width=W, height=H,
    margin=dict(l=PLOT_L, r=W - PLOT_R, t=PLOT_T, b=H - PLOT_B),
    paper_bgcolor="white", plot_bgcolor="white",
    showlegend=False,
    annotations=ann, shapes=shapes,
    xaxis=dict(range=["2026-07-19 00:00", "2026-08-04 00:00"],
               tickvals=tick_dates, ticktext=tick_labels,
               tickfont=dict(family="Liberation Sans", size=12, color="black", weight="bold"),
               ticklabelstandoff=4,
               showgrid=True, gridcolor="#aaaaaa", gridwidth=1, griddash="2px,4px",
               ticks="", zeroline=False, showline=False),
    yaxis=dict(range=[-25, 35], tickvals=temp_ticks,
               tickfont=dict(family="Liberation Sans", size=12, color="black", weight="bold"),
               showgrid=True, gridcolor="#999999", gridwidth=2, griddash="3px,4px",
               ticks="outside", ticklen=5, tickcolor="#888888",
               zeroline=False, showline=False),
    yaxis2=dict(range=[0, 60], tickvals=rain_ticks, overlaying="y", side="right",
                tickfont=dict(family="Liberation Sans", size=12, color=RAIN_LABEL_C, weight="bold"),
                showgrid=False, ticks="outside", ticklen=5, tickcolor=RAIN_LABEL_C,
                zeroline=False, showline=False),
)

fig.write_html("out.html")
